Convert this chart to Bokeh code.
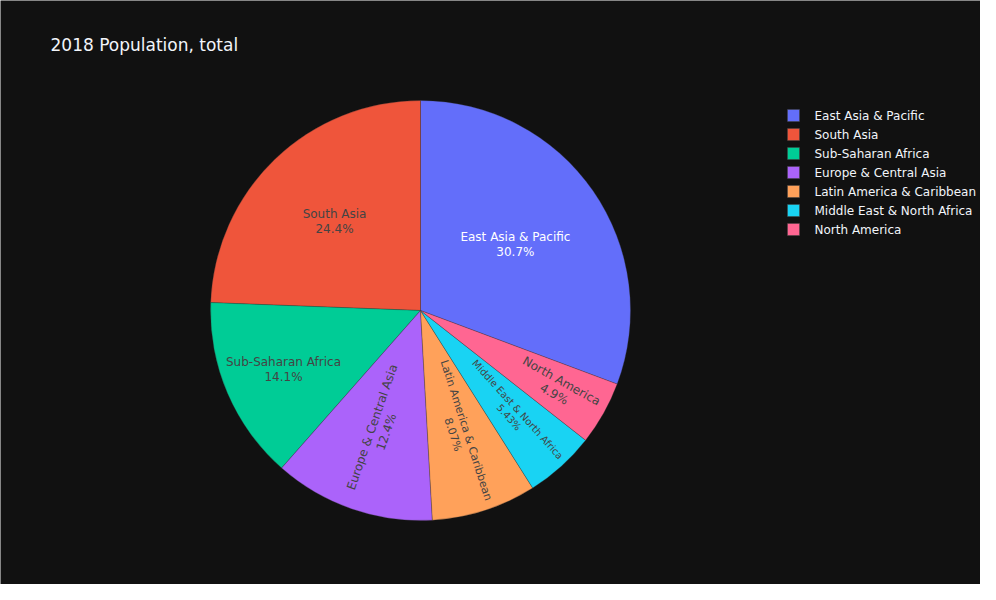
import math
from bokeh.plotting import figure
from bokeh.models import Range1d, ColumnDataSource
from bokeh.core.properties import value
from bokeh.embed import file_html
from bokeh.resources import INLINE

# ---- data ----
regions = ["East Asia & Pacific", "South Asia", "Sub-Saharan Africa",
           "Europe & Central Asia", "Latin America & Caribbean",
           "Middle East & North Africa", "North America"]
shares = [30.7, 24.4, 14.1, 12.4, 8.07, 5.43, 4.9]
pct_labels = ["30.7%", "24.4%", "14.1%", "12.4%", "8.07%", "5.43%", "4.9%"]
title_text = "2018 Population, total"

# ---- styles ----
colors = ["#636efa", "#EF553B", "#00cc96", "#ab63fa", "#FFA15A", "#19d3f3", "#FF6692"]
text_colors = ["#ffffff", "#444444", "#444444", "#444444", "#444444", "#444444", "#444444"]
label_rfrac = [0.55, 0.59, 0.71, 0.60, 0.61, 0.66, 0.75]
label_radial = [False, False, False, True, True, True, True]
label_size = ["12px", "12px", "12px", "12px", "10.9px", "9.9px", "12px"]
FONT = "DejaVu Sans"
BG = "#111111"

W, H = 980, 584
p = figure(width=W, height=H, output_backend="svg", toolbar_location=None,
           x_range=Range1d(0, W), y_range=Range1d(600 - H, 600),
           min_border=0, outline_line_color=None,
           background_fill_color=BG, border_fill_color=BG)
p.axis.visible = False
p.grid.visible = False

cx, cy, R = 420, 290, 210

total = sum(shares)
starts, ends, mids = [], [], []
a = math.pi / 2 - 2 * math.pi * shares[0] / total
for s in shares:
    span = 2 * math.pi * s / total
    starts.append(a)
    ends.append(a + span)
    mids.append(a + span / 2)
    a += span

src = ColumnDataSource(dict(start=starts, end=ends, color=colors))
p.wedge(x=cx, y=cy, radius=R, start_angle="start", end_angle="end",
        direction="anticlock", fill_color="color", line_color="#333333",
        line_width=0.3, source=src)

# slice labels
for i, name in enumerate(regions):
    m = mids[i]
    r = R * label_rfrac[i]
    lx = cx + r * math.cos(m)
    ly = cy + r * math.sin(m)
    ang = 0.0
    if label_radial[i]:
        ang = m
        while ang > math.pi / 2:
            ang -= math.pi
        while ang < -math.pi / 2:
            ang += math.pi
    p.text(x=[lx], y=[ly], text=[name + "\n" + pct_labels[i]], angle=ang,
           text_align="center", text_baseline="middle",
           text_font=value(FONT), text_font_size=label_size[i],
           text_color=text_colors[i], text_line_height=1.07)

# title
p.text(x=[50], y=[600 - 44], text=[title_text], text_align="left",
       text_baseline="middle", text_font=value(FONT), text_font_size="17px",
       text_color="#f2f5fa")

# legend
ly0 = 600 - 115
ys = [ly0 - 19 * i for i in range(len(regions))]
p.scatter(x=[793] * len(regions), y=ys, marker="square", size=12,
          fill_color=colors, line_color="#444444", line_width=0.5)
p.text(x=[814] * len(regions), y=ys, text=regions, text_align="left",
       text_baseline="middle", text_font=value(FONT), text_font_size="12px",
       text_color="#f2f5fa")

open("out.html", "w").write(file_html(p, INLINE))
